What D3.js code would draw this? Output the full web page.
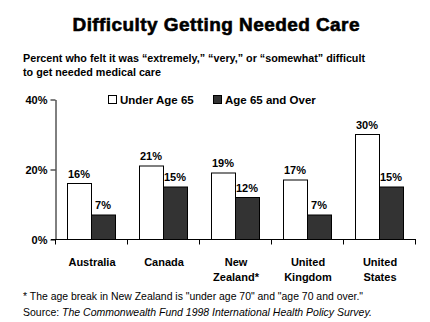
<!DOCTYPE html>
<html><head><meta charset="utf-8">
<script src="https://cdn.jsdelivr.net/npm/d3@7"></script>
<style>body{margin:0;background:#fff}svg{display:block}</style>
</head><body>
<script>
const categories = [["Australia"],["Canada"],["New","Zealand*"],["United","Kingdom"],["United","States"]];
const catKeys = ["Australia","Canada","New Zealand","United Kingdom","United States"];
const under65 = [16,21,19,17,30];
const over65 = [7,15,12,7,15];
const seriesNames = ["Under Age 65","Age 65 and Over"];
const yTicks = [0,20,40];

const W=430,H=322;
const svg=d3.select("body").append("svg").attr("width",W).attr("height",H);
const F="Liberation Sans, Arial, sans-serif";

svg.append("text").attr("x",216).attr("y",31).attr("text-anchor","middle")
 .attr("font-family",F).attr("font-weight","bold").attr("font-size",19).attr("textLength",287)
 .attr("stroke","#000").attr("stroke-width",0.6)
 .text("Difficulty Getting Needed Care");
svg.append("text").attr("x",23).attr("y",62).attr("font-family",F).attr("font-weight","bold").attr("font-size",11)
 .attr("textLength",342).attr("lengthAdjust","spacingAndGlyphs")
 .text("Percent who felt it was \u201cextremely,\u201d \u201cvery,\u201d or \u201csomewhat\u201d difficult");
svg.append("text").attr("x",23).attr("y",76).attr("font-family",F).attr("font-weight","bold").attr("font-size",11)
 .attr("textLength",138).attr("lengthAdjust","spacingAndGlyphs")
 .text("to get needed medical care");

const x=d3.scaleBand().domain(catKeys).range([55,415]).paddingInner(0).paddingOuter(0);
const inner=d3.scaleBand().domain([0,1]).range([12,60]);
const y=d3.scaleLinear().domain([0,40]).range([239.5,99.5]);

const g=svg.append("g");
const data=catKeys.map((k,i)=>({k,v:[under65[i],over65[i]]}));
const grp=g.selectAll("g.c").data(data).enter().append("g").attr("transform",d=>`translate(${x(d.k)},0)`);
grp.selectAll("rect").data(d=>d.v).enter().append("rect")
 .attr("x",(d,i)=>inner(i)+0.5).attr("width",inner.bandwidth())
 .attr("y",d=>y(d)).attr("height",d=>y(0)-y(d))
 .attr("fill",(d,i)=>i?"#333333":"#fff").attr("stroke","#000").attr("stroke-width",1);
grp.selectAll("text").data(d=>d.v).enter().append("text")
 .attr("x",(d,i)=>inner(i)+inner.bandwidth()/2).attr("y",d=>y(d)-6)
 .attr("text-anchor","middle").attr("font-family",F).attr("font-weight","bold").attr("font-size",11)
 .text(d=>d+"%");

// y axis
const ya=svg.append("g").attr("transform","translate(55.5,0)")
 .call(d3.axisLeft(y).tickValues(yTicks).tickFormat(d=>d+"%").tickSize(5).tickSizeOuter(0));
ya.select(".domain").attr("stroke","#000");
ya.selectAll("text").attr("font-family",F).attr("font-weight","bold").attr("font-size",11).attr("fill","#000");
// x axis
const xa=svg.append("g").attr("transform","translate(0,239.5)");
xa.append("line").attr("x1",51).attr("x2",416).attr("stroke","#000");
const edges=catKeys.map(k=>x(k)).concat([x.range()[1]]);
xa.selectAll("line.t").data(edges).enter().append("line").attr("class","t")
 .attr("x1",d=>d+0.5).attr("x2",d=>d+0.5).attr("y1",0).attr("y2",5).attr("stroke","#000");
catKeys.forEach((k,i)=>{
  categories[i].forEach((ln,j)=>{
    svg.append("text").attr("x",x(k)+x.bandwidth()/2+1).attr("y",266+j*15).attr("text-anchor","middle")
     .attr("font-family",F).attr("font-weight","bold").attr("font-size",11).text(ln);
  });
});

// legend
const lg=[{x:108,fill:"#fff"},{x:213,fill:"#333333"}];
lg.forEach((l,i)=>{
  svg.append("rect").attr("x",l.x+0.5).attr("y",95.5).attr("width",8).attr("height",8).attr("fill",l.fill).attr("stroke","#000");
  svg.append("text").attr("x",l.x+12).attr("y",103.5).attr("font-family",F).attr("font-weight","bold").attr("font-size",11.5).text(seriesNames[i]);
});

svg.append("text").attr("x",23).attr("y",300).attr("font-family",F).attr("font-size",10.5)
 .attr("textLength",340).attr("lengthAdjust","spacingAndGlyphs")
 .text("* The age break in New Zealand is \"under age 70\" and \"age 70 and over.\"");
const s=svg.append("text").attr("x",23).attr("y",316).attr("font-family",F).attr("font-size",10.5);
s.append("tspan").text("Source: ");
s.append("tspan").attr("font-style","italic").text("The Commonwealth Fund 1998 International Health Policy Survey.");
</script>
</body></html>
